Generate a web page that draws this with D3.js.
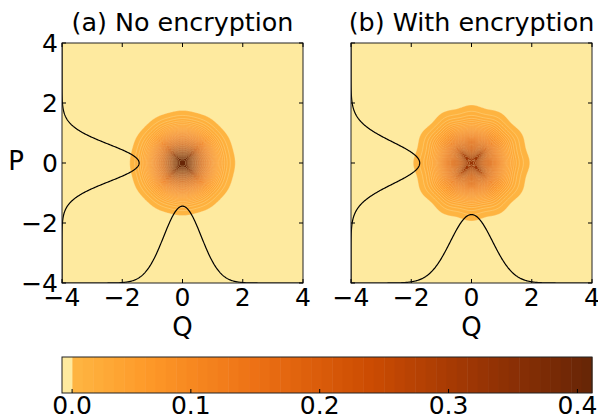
<!DOCTYPE html>
<html>
<head>
<meta charset="utf-8">
<script src="https://cdn.jsdelivr.net/npm/d3@7"></script>
<style>
  body { margin: 0; background: #fff; }
  text { font-family: "DejaVu Sans", sans-serif; fill: #000; }
</style>
</head>
<body>
<div id="viz"></div>
<script>
// panel data: Gaussian-like Wigner functions with small ripple terms
const panelTitles = ["(a) No encryption", "(b) With encryption"];
const peakW = [0.41, 0.325];
const spreadS = [0.776, 0.98];
const ripple4 = [0.025, 0.1];
const ripple12 = [0.06, 0.15];
const marginalGain = 4;
const axisTicks = [-4, -2, 0, 2, 4];

// contour levels / colorbar
const levelStep = 0.008065;
const levelCount = 51;
const levelFloor = -0.28;
const cbTicks = [0.0, 0.1, 0.2, 0.3, 0.4];
const ylorbr = ["#ffffe5", "#fff7bc", "#fee391", "#fec44f", "#fe9929",
  "#ec7014", "#cc4c02", "#993404", "#662506"];

const config = {
  width: 598,
  height: 419,
  panelLeft: [62, 351],
  panelSize: 241,
  panelTop: 43,
  panelHeight: 240,
  tickLen: 4,
  grid: 161,
  cbLeft: 62,
  cbRight: 592,
  cbTop: 357,
  cbBottom: 393,
  tickFont: 25,
  titleFont: 25.4,
  labelFont: 26,
};

const levels = [levelFloor, ...d3.range(1, levelCount + 1).map((i) => i * levelStep)];
const cmap = d3.scaleLinear().domain(d3.range(9).map((i) => i / 8)).range(ylorbr);
const norm = d3.scaleLinear().domain([levels[0], levels[levels.length - 1]]).range([0, 1]);
const bandColor = (i) => cmap(norm((levels[i] + levels[i + 1]) / 2));

const wigner = (k, q, p) => {
  const r = Math.hypot(q, p);
  const th = Math.atan2(p, q);
  const g = peakW[k] * Math.exp((-r * r) / spreadS[k]);
  return g * (1 - ripple4[k] * Math.cos(4 * th) * Math.sin(Math.PI * r) ** 2
    + ripple12[k] * Math.cos(12 * th) * (r / 2) ** 4);
};

const marginal = (k, v) =>
  peakW[k] * Math.sqrt(Math.PI * spreadS[k]) * Math.exp((-v * v) / spreadS[k]);

const svg = d3.select("#viz").append("svg")
  .attr("width", config.width)
  .attr("height", config.height);

const fmt = d3.format("d");

panelTitles.forEach((title, k) => {
  const x0 = config.panelLeft[k];
  const x = d3.scaleLinear().domain([-4, 4]).range([x0, x0 + config.panelSize]);
  const y = d3.scaleLinear().domain([-4, 4]).range([config.panelTop + config.panelHeight, config.panelTop]);
  const g = svg.append("g");

  g.append("clipPath").attr("id", "clip" + k)
    .append("rect")
    .attr("x", x(-4)).attr("y", y(4))
    .attr("width", x(4) - x(-4)).attr("height", y(-4) - y(4));

  const plot = g.append("g").attr("clip-path", `url(#clip${k})`);

  plot.append("rect")
    .attr("x", x(-4)).attr("y", y(4))
    .attr("width", x(4) - x(-4)).attr("height", y(-4) - y(4))
    .attr("fill", bandColor(0));

  // grid of values, row 0 at P = 4
  const n = config.grid;
  const step = 8 / (n - 1);
  const values = new Array(n * n);
  for (let j = 0; j < n; j++) {
    for (let i = 0; i < n; i++) {
      values[j * n + i] = wigner(k, -4 + i * step, 4 - j * step);
    }
  }
  const gx = d3.scaleLinear().domain([0.5, n - 0.5]).range([x(-4), x(4)]);
  const gy = d3.scaleLinear().domain([0.5, n - 0.5]).range([y(4), y(-4)]);
  const path = d3.geoPath(d3.geoTransform({
    point(px, py) { this.stream.point(gx(px), gy(py)); },
  }));

  // light seams between filled bands, like the antialiasing gaps of the original
  const contours = d3.contours().size([n, n]).thresholds(levels.slice(1, -1))(values);
  plot.selectAll("path.band")
    .data(contours)
    .join("path")
    .attr("class", "band")
    .attr("d", path)
    .attr("fill", (d, i) => bandColor(i + 1))
    .attr("stroke", "#fde9a8")
    .attr("stroke-opacity", 0.7)
    .attr("stroke-width", 0.5);

  // marginals
  const vs = d3.range(-4, 4.001, 0.02);
  const lineP = d3.line().x((v) => x(-4 + marginalGain * marginal(k, v))).y((v) => y(v));
  const lineQ = d3.line().x((v) => x(v)).y((v) => y(-4 + marginalGain * marginal(k, v)));
  plot.append("path").attr("d", lineP(vs)).attr("fill", "none").attr("stroke", "#000").attr("stroke-width", 1.2);
  plot.append("path").attr("d", lineQ(vs)).attr("fill", "none").attr("stroke", "#000").attr("stroke-width", 1.2);

  // frame
  g.append("rect")
    .attr("x", x(-4)).attr("y", y(4))
    .attr("width", x(4) - x(-4)).attr("height", y(-4) - y(4))
    .attr("fill", "none").attr("stroke", "#222").attr("stroke-width", 1);

  // inward ticks on all sides
  const tl = config.tickLen;
  axisTicks.forEach((t) => {
    g.append("line").attr("x1", x(t)).attr("x2", x(t)).attr("y1", y(-4)).attr("y2", y(-4) - tl).attr("stroke", "#000");
    g.append("line").attr("x1", x(t)).attr("x2", x(t)).attr("y1", y(4)).attr("y2", y(4) + tl).attr("stroke", "#000");
    g.append("line").attr("y1", y(t)).attr("y2", y(t)).attr("x1", x(-4)).attr("x2", x(-4) + tl).attr("stroke", "#000");
    g.append("line").attr("y1", y(t)).attr("y2", y(t)).attr("x1", x(4)).attr("x2", x(4) - tl).attr("stroke", "#000");
  });

  g.selectAll("text.xt")
    .data(axisTicks)
    .join("text")
    .attr("class", "xt")
    .attr("x", (t) => x(t))
    .attr("y", 306)
    .attr("text-anchor", "middle")
    .attr("font-size", config.tickFont)
    .text((t) => fmt(t));

  if (k === 0) {
    g.selectAll("text.yt")
      .data(axisTicks)
      .join("text")
      .attr("class", "yt")
      .attr("x", x(-4) - 4)
      .attr("y", (t) => y(t) + 0.3645 * config.tickFont)
      .attr("text-anchor", "end")
      .attr("font-size", config.tickFont)
      .text((t) => fmt(t));
    g.append("text")
      .attr("x", 16).attr("y", 170)
      .attr("text-anchor", "middle").attr("font-size", config.labelFont)
      .text("P");
  }

  g.append("text")
    .attr("x", (x(-4) + x(4)) / 2).attr("y", 336)
    .attr("text-anchor", "middle").attr("font-size", config.labelFont)
    .text("Q");

  g.append("text")
    .attr("x", (x(-4) + x(4)) / 2).attr("y", 31)
    .attr("text-anchor", "middle").attr("font-size", config.titleFont)
    .text(title);
});

// colorbar: equal-width bands, ticks placed by interpolation over the levels
const bandW = (config.cbRight - config.cbLeft) / (levels.length - 1);
const cbScale = d3.scaleLinear()
  .domain(levels)
  .range(levels.map((_, i) => config.cbLeft + i * bandW));

const cb = svg.append("g");
cb.selectAll("rect.cb")
  .data(d3.range(levels.length - 1))
  .join("rect")
  .attr("class", "cb")
  .attr("x", (i) => cbScale(levels[i]))
  .attr("y", config.cbTop)
  .attr("width", bandW + 0.5)
  .attr("height", config.cbBottom - config.cbTop)
  .attr("fill", (i) => bandColor(i));

cb.append("rect")
  .attr("x", config.cbLeft).attr("y", config.cbTop)
  .attr("width", config.cbRight - config.cbLeft)
  .attr("height", config.cbBottom - config.cbTop)
  .attr("fill", "none").attr("stroke", "#222");

cbTicks.forEach((t) => {
  cb.append("line")
    .attr("x1", cbScale(t)).attr("x2", cbScale(t))
    .attr("y1", config.cbBottom).attr("y2", config.cbBottom - config.tickLen)
    .attr("stroke", "#000");
  cb.append("text")
    .attr("x", cbScale(t)).attr("y", 414)
    .attr("text-anchor", "middle").attr("font-size", config.tickFont)
    .text(d3.format(".1f")(t));
});
</script>
</body>
</html>
